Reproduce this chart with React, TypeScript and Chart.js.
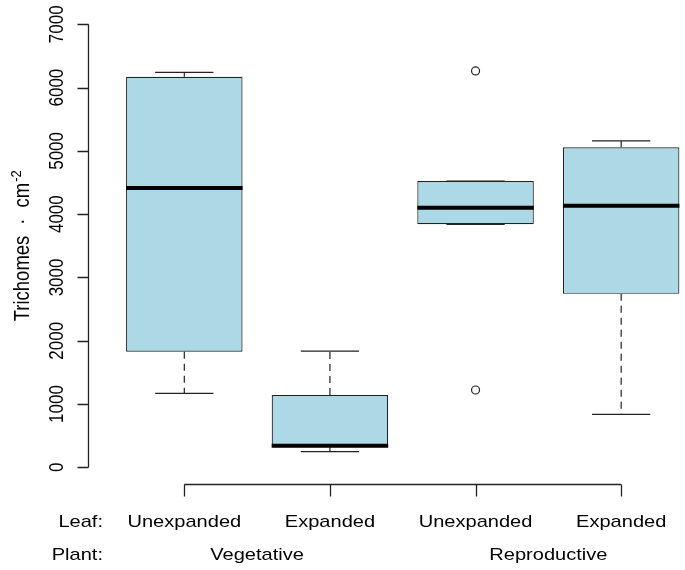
import React, { useEffect, useRef } from "react";
import { Chart, registerables } from "chart.js";

Chart.register(...registerables);

// ---- data ----
const LEAF_LABELS = ["Unexpanded", "Expanded", "Unexpanded", "Expanded"];
const PLANT_LABELS = ["Vegetative", "Reproductive"];
const PLANT_SPANS = [[1, 2], [3, 4]];
const POSITIONS = [1, 2, 3, 4];
const WHISKER_LOW = [1168, 246, 3840, 837];
const Q1 = [1825, 318, 3840, 2741];
const MEDIAN = [4415, 340, 4102, 4131];
const Q3 = [6172, 1142, 4523, 5058];
const WHISKER_HIGH = [6241, 1836, 4523, 5157];
const OUTLIER_X = [3, 3];
const OUTLIER_Y = [6263, 1221];
const Y_TICKS = [0, 1000, 2000, 3000, 4000, 5000, 6000, 7000];
const Y_TITLE = "Trichomes";
const Y_TITLE_UNIT = "cm";
const Y_TITLE_SUP = "-2";
const ROW_LABELS = ["Leaf:", "Plant:"];

const FONT = '"Liberation Sans", Arial, Helvetica, sans-serif';
const SX = 1.18;
const INK = "#222";

function hText(ctx: CanvasRenderingContext2D, s: string, x: number, y: number, align: CanvasTextAlign) {
  ctx.save();
  ctx.translate(x, y);
  ctx.scale(SX, 1);
  ctx.textAlign = align;
  ctx.textBaseline = "alphabetic";
  ctx.fillText(s, 0, 0);
  ctx.restore();
}

function vText(ctx: CanvasRenderingContext2D, s: string, x: number, y: number, align: CanvasTextAlign) {
  ctx.save();
  ctx.translate(x, y);
  ctx.rotate(-Math.PI / 2);
  ctx.scale(1, SX);
  ctx.textAlign = align;
  ctx.textBaseline = "alphabetic";
  ctx.fillText(s, 0, 0);
  ctx.restore();
}

const boxExtras = {
  id: "boxExtras",
  afterDatasetsDraw(chart: any) {
    const { ctx } = chart;
    const x = chart.scales.x;
    const y = chart.scales.y;
    const unit = x.getPixelForValue(1) - x.getPixelForValue(0);
    const capHalf = unit * 0.2;
    const boxHalf = unit * 0.4;
    ctx.save();
    ctx.strokeStyle = INK;
    POSITIONS.forEach((p, i) => {
      const cx = x.getPixelForValue(p);
      // whiskers (dashed)
      ctx.lineWidth = 1.2;
      ctx.setLineDash([7, 5]);
      ctx.beginPath();
      ctx.moveTo(cx, y.getPixelForValue(Q3[i]));
      ctx.lineTo(cx, y.getPixelForValue(WHISKER_HIGH[i]));
      ctx.moveTo(cx, y.getPixelForValue(Q1[i]));
      ctx.lineTo(cx, y.getPixelForValue(WHISKER_LOW[i]));
      ctx.stroke();
      ctx.setLineDash([]);
      // caps
      ctx.beginPath();
      const yh = y.getPixelForValue(WHISKER_HIGH[i]);
      const yl = y.getPixelForValue(WHISKER_LOW[i]);
      ctx.moveTo(cx - capHalf, yh);
      ctx.lineTo(cx + capHalf, yh);
      ctx.moveTo(cx - capHalf, yl);
      ctx.lineTo(cx + capHalf, yl);
      ctx.stroke();
      // median
      ctx.lineWidth = 4;
      ctx.strokeStyle = "#000";
      ctx.beginPath();
      const ym = y.getPixelForValue(MEDIAN[i]);
      ctx.moveTo(cx - boxHalf, ym);
      ctx.lineTo(cx + boxHalf, ym);
      ctx.stroke();
      ctx.strokeStyle = INK;
    });
    ctx.restore();
  },
  afterDraw(chart: any) {
    const { ctx, chartArea } = chart;
    const x = chart.scales.x;
    const y = chart.scales.y;
    ctx.save();
    ctx.strokeStyle = INK;
    ctx.fillStyle = "#000";
    ctx.lineWidth = 1.3;
    // y axis
    const ax = Math.round(chartArea.left) + 0.5;
    ctx.beginPath();
    ctx.moveTo(ax, y.getPixelForValue(Y_TICKS[0]));
    ctx.lineTo(ax, y.getPixelForValue(Y_TICKS[Y_TICKS.length - 1]));
    Y_TICKS.forEach((t) => {
      const py = Math.round(y.getPixelForValue(t)) + 0.5;
      ctx.moveTo(ax, py);
      ctx.lineTo(ax - 11, py);
    });
    ctx.stroke();
    ctx.font = `17px ${FONT}`;
    Y_TICKS.forEach((t) => {
      vText(ctx, String(t), ax - 26, y.getPixelForValue(t), "center");
    });
    // y title
    const midY = (y.getPixelForValue(Y_TICKS[0]) + y.getPixelForValue(Y_TICKS[Y_TICKS.length - 1])) / 2;
    const tSize = 18.5;
    const sSize = 13;
    ctx.font = `${tSize}px ${FONT}`;
    const wT = ctx.measureText(Y_TITLE).width;
    const wDot = ctx.measureText("\u00B7").width;
    const wCm = ctx.measureText(Y_TITLE_UNIT).width;
    ctx.font = `${sSize}px ${FONT}`;
    const wSup = ctx.measureText(Y_TITLE_SUP).width;
    const gap = 11;
    const total = wT + gap + wDot + gap + wCm + 1 + wSup;
    let start = midY + total / 2;
    const tx = 29;
    ctx.font = `${tSize}px ${FONT}`;
    vText(ctx, Y_TITLE, tx, start, "left");
    start -= wT + gap;
    vText(ctx, "\u00B7", tx, start, "left");
    start -= wDot + gap;
    vText(ctx, Y_TITLE_UNIT, tx, start, "left");
    start -= wCm + 1;
    ctx.font = `${sSize}px ${FONT}`;
    vText(ctx, Y_TITLE_SUP, tx - 8, start, "left");

    // bottom bracket axis
    const by = Math.round(chartArea.bottom) - 0.5;
    const x0 = x.getPixelForValue(POSITIONS[0]);
    const x1 = x.getPixelForValue(POSITIONS[POSITIONS.length - 1]);
    ctx.beginPath();
    ctx.moveTo(x0, by);
    ctx.lineTo(x1, by);
    POSITIONS.forEach((p) => {
      const px = Math.round(x.getPixelForValue(p)) + 0.5;
      ctx.moveTo(px, by);
      ctx.lineTo(px, by + 12);
    });
    ctx.stroke();

    // labels
    ctx.font = `17px ${FONT}`;
    const row1 = chartArea.bottom + 42;
    const row2 = chartArea.bottom + 75;
    hText(ctx, ROW_LABELS[0], 103, row1, "right");
    hText(ctx, ROW_LABELS[1], 103, row2, "right");
    POSITIONS.forEach((p, i) => {
      hText(ctx, LEAF_LABELS[i], x.getPixelForValue(p), row1, "center");
    });
    PLANT_SPANS.forEach((span, i) => {
      const cx = (x.getPixelForValue(span[0]) + x.getPixelForValue(span[1])) / 2;
      hText(ctx, PLANT_LABELS[i], cx, row2, "center");
    });
    ctx.restore();
  },
};

export default function App() {
  const ref = useRef<HTMLCanvasElement | null>(null);
  useEffect(() => {
    if (!ref.current) return;
    const chart = new Chart(ref.current, {
      type: "bar",
      data: {
        datasets: [
          {
            type: "bar",
            data: POSITIONS.map((p, i) => ({ x: p, y: [Q1[i], Q3[i]] })) as any,
            backgroundColor: "#ADD8E6",
            borderColor: INK,
            borderWidth: 1.2,
            borderSkipped: false,
            categoryPercentage: 0.8,
            barPercentage: 1,
          },
          {
            type: "scatter",
            data: OUTLIER_X.map((v, i) => ({ x: v, y: OUTLIER_Y[i] })),
            pointStyle: "circle",
            pointRadius: 4,
            pointBorderColor: INK,
            pointBackgroundColor: "rgba(255,255,255,0)",
            pointBorderWidth: 1.2,
          } as any,
        ],
      },
      options: {
        responsive: false,
        animation: false,
        devicePixelRatio: 1,
        layout: { padding: { left: 88, right: 0, top: 6.6, bottom: 85 } },
        plugins: { legend: { display: false }, tooltip: { enabled: false } },
        scales: {
          x: {
            type: "linear",
            display: false,
            offset: false,
            min: 0.3386,
            max: 4.4026,
            afterBuildTicks: (scale: any) => {
              scale.ticks = POSITIONS.map((v) => ({ value: v }));
            },
          },
          y: { type: "linear", display: false, min: -280, max: 7280 },
        },
      },
      plugins: [boxExtras],
    });
    return () => chart.destroy();
  }, []);
  return (
    <div style={{ position: "absolute", left: 0, top: 0, width: 685, height: 570, background: "#fff" }}>
      <canvas ref={ref} width={685} height={570} style={{ display: "block" }} />
    </div>
  );
}
